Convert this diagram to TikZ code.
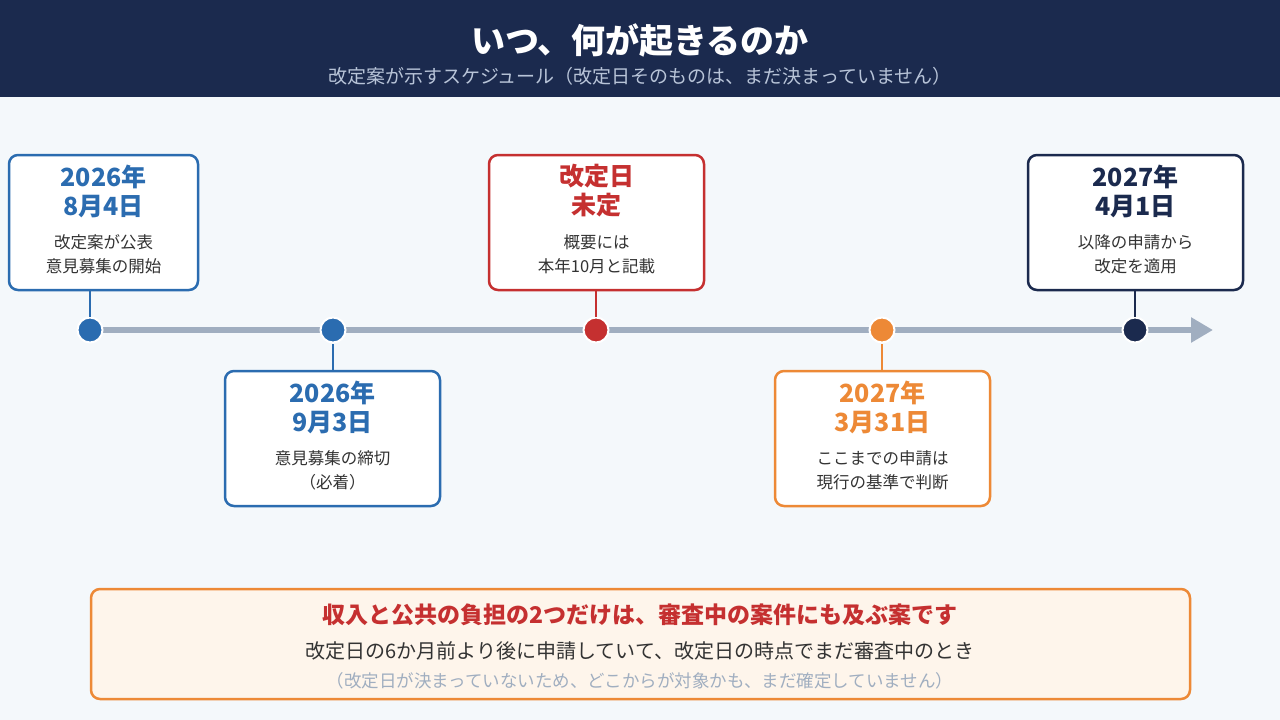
\documentclass[tikz,border=0pt]{standalone}
\usepackage{fontspec}
\setmainfont{Noto Sans CJK JP}
\usetikzlibrary{arrows.meta}
\definecolor{navy}{HTML}{1B2A4E}
\definecolor{bblue}{HTML}{2B6CB0}
\definecolor{rred}{HTML}{C53030}
\definecolor{oran}{HTML}{ED8936}
\definecolor{bg}{HTML}{F4F8FB}
\definecolor{lgray}{HTML}{A0AEC0}
\definecolor{txt}{HTML}{333333}
\definecolor{sub}{HTML}{B8C4D8}
\definecolor{cream}{HTML}{FEF5EB}
\begin{document}
\begin{tikzpicture}[x=1pt,y=-1pt,
  box/.style={draw=#1,line width=2.5pt,fill=white,rounded corners=9pt},
  dot/.style={circle,fill=#1,draw=white,line width=2pt,minimum size=25pt,inner sep=0pt},
  ttl/.style={text=#1,font=\fontsize{25}{29}\selectfont\bfseries,align=center},
  dsc/.style={text=txt,font=\fontsize{16.5}{24}\selectfont,align=center},
  conn/.style={draw=#1,line width=2.5pt}]
\useasboundingbox (0,0) rectangle (1280,720);
\fill[bg] (0,0) rectangle (1280,720);
\fill[navy] (0,0) rectangle (1280,97);
\node[text=white,font=\fontsize{34}{38}\selectfont\bfseries] (title) at (640,40) {いつ、何が起きるのか};
\node[text=sub,font=\fontsize{19}{22}\selectfont] (subt) at (640,76) {改定案が示すスケジュール（改定日そのものは、まだ決まっていません）};
% timeline
\coordinate (ls) at (90,330);
\coordinate (le) at (1213,330);
\draw[lgray,line width=6pt,-{Triangle[length=22pt,width=24pt]}] (ls) -- (le);
% boxes
\draw[box=bblue] (9,155) rectangle (198,290);
\node[ttl=bblue] (t1) at (103.5,191) {2026年\\8月4日};
\node[dsc] (d1) at (103.5,254) {改定案が公表\\意見募集の開始};
\draw[box=bblue] (225,371) rectangle (440,506);
\node[ttl=bblue] (t2) at (332.5,407) {2026年\\9月3日};
\node[dsc] (d2) at (332.5,470) {意見募集の締切\\（必着）};
\draw[box=rred] (489,155) rectangle (704,290);
\node[ttl=rred] (t3) at (596.5,191) {改定日\\未定};
\node[dsc] (d3) at (596.5,254) {概要には\\本年10月と記載};
\draw[box=oran] (775,371) rectangle (990,506);
\node[ttl=oran] (t4) at (882.5,407) {2027年\\3月31日};
\node[dsc] (d4) at (882.5,470) {ここまでの申請は\\現行の基準で判断};
\draw[box=navy] (1028,155) rectangle (1243,290);
\node[ttl=navy] (t5) at (1135.5,191) {2027年\\4月1日};
\node[dsc] (d5) at (1135.5,254) {以降の申請から\\改定を適用};
% connectors and dots
\coordinate (c1) at (90,290); \coordinate (c2) at (333,371); \coordinate (c3) at (596,290);
\coordinate (c4) at (882,371); \coordinate (c5) at (1135,290);
\node[dot=bblue] (p1) at (90,330) {};
\node[dot=bblue] (p2) at (333,330) {};
\node[dot=rred] (p3) at (596,330) {};
\node[dot=oran] (p4) at (882,330) {};
\node[dot=navy] (p5) at (1135,330) {};
\draw[conn=bblue] (c1) -- (p1.north);
\draw[conn=bblue] (c2) -- (p2.south);
\draw[conn=rred] (c3) -- (p3.north);
\draw[conn=oran] (c4) -- (p4.south);
\draw[conn=navy] (c5) -- (p5.north);
% bottom
\draw[draw=oran,line width=2.5pt,fill=cream,rounded corners=9pt] (91,589) rectangle (1190,699);
\node[text=rred,font=\fontsize{23}{27}\selectfont\bfseries] (b1) at (640,615) {収入と公共の負担の2つだけは、審査中の案件にも及ぶ案です};
\node[text=txt,font=\fontsize{20}{24}\selectfont] (b2) at (640,651) {改定日の6か月前より後に申請していて、改定日の時点でまだ審査中のとき};
\node[text=lgray,font=\fontsize{17.5}{21}\selectfont] (b3) at (640,681) {（改定日が決まっていないため、どこからが対象かも、まだ確定していません）};
\end{tikzpicture}
\end{document}
